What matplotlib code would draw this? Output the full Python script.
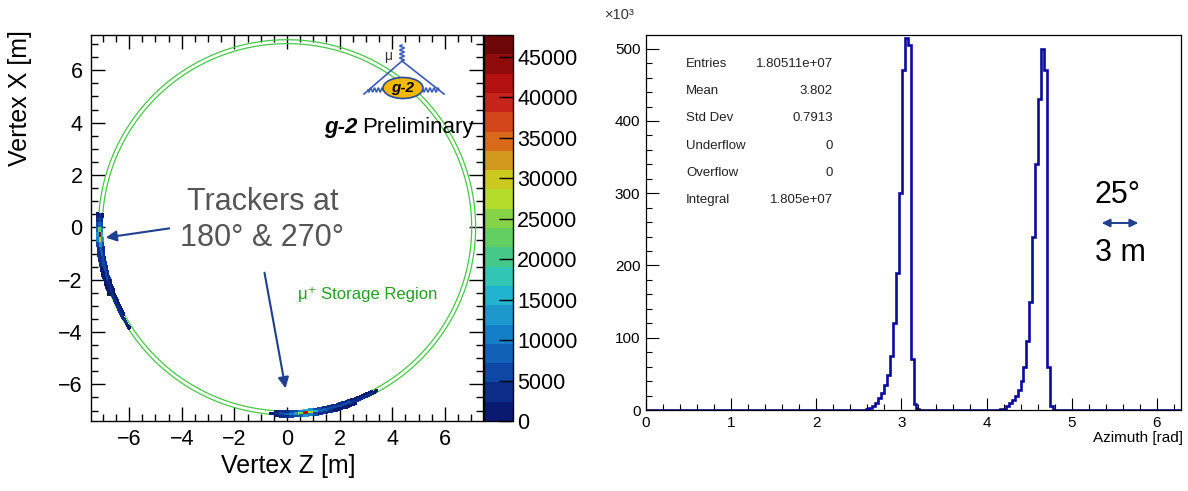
import numpy as np
import matplotlib
matplotlib.use('Agg')
import matplotlib.pyplot as plt
from matplotlib.colors import ListedColormap, Normalize
from matplotlib.patches import Ellipse
from matplotlib.ticker import MultipleLocator

plt.rcParams['font.family'] = ['Liberation Sans', 'DejaVu Sans']

# ---------------- data ----------------
# palette bands (0 -> top)
palette_colors = ['#0a1a70', '#0c2c8a', '#0e47a5', '#1161b8', '#137fc9', '#1c98cc',
                  '#22b3cf', '#30c5b5', '#45c98a', '#63cf62', '#86d348', '#b4dc2a',
                  '#cbc81e', '#d0981c', '#d86a1a', '#d3461c', '#c6231a', '#b31111',
                  '#8f0a0a', '#6e0707']
color_max = 47700
colorbar_ticks = [0, 5000, 10000, 15000, 20000, 25000, 30000, 35000, 40000, 45000]

ring_radii = [7.02, 7.17]                     # storage region boundaries [m]
hit_r_edges = [6.99, 7.08, 7.17, 7.27]       # radial bins of the vertex map [m]

# tracker at 180 deg: azimuthal bins (deg) and counts (inner, mid, outer rows)
trk180_theta_edges = np.arange(174.0, 213.1, 1.5)
trk180_inner = [0, 1500, 3000, 5000, 10000, 16000, 12000, 6000, 4500, 4000, 3500, 3000, 3000,
                2500, 2500, 2000, 2000, 2000, 1500, 1500, 1500, 1000, 1000, 0, 0, 0]
trk180_mid = [0, 3000, 6000, 9000, 22000, 43000, 30000, 12000, 9000, 8000, 7000, 6000, 6000,
              5000, 5000, 4500, 4500, 4000, 4000, 3500, 3500, 3000, 3000, 2500, 2500, 2000]
trk180_outer = [0, 1500, 3000, 5000, 9000, 14000, 10000, 5000, 4000, 3500, 3000, 2500, 2000,
                2000, 1500, 1500, 1000, 1000, 0, 0, 0, 0, 0, 0, 0, 0]

# tracker at 270 deg
trk270_theta_edges = np.arange(264.5, 299.1, 1.5)
trk270_inner = [0, 2000, 3000, 4000, 5000, 7000, 11000, 16000, 12000, 7000, 5000, 4000, 3500,
                3000, 3000, 2500, 2500, 2000, 2000, 1500, 1500, 1000, 0]
trk270_mid = [1500, 4000, 6000, 8000, 10000, 14000, 25000, 42000, 30000, 15000, 9000, 8000, 7000,
              6000, 6000, 5000, 5000, 4500, 4000, 4000, 3500, 3000, 2000]
trk270_outer = [0, 1500, 2500, 3500, 5000, 6000, 9000, 13000, 10000, 6000, 4000, 3000, 2500,
                2000, 1500, 1500, 1000, 1000, 0, 0, 0, 0, 0]

# azimuth histogram: 180 bins over [0, 2pi], counts in units of 10^3
az_nbins = 180
peak1_first_bin = 74
peak1_counts = [1, 3, 6, 10, 16, 24, 34, 48, 75, 120, 190, 300, 470, 515, 505, 70, 8, 1]
peak2_first_bin = 119
peak2_counts = [1, 2, 5, 9, 14, 20, 28, 40, 60, 95, 150, 240, 340, 430, 500, 470, 60, 5]

stats_names = ['Entries', 'Mean', 'Std Dev', 'Underflow', 'Overflow', 'Integral']
stats_values = ['1.80511e+07', '3.802', '0.7913', '0', '0', '1.805e+07']

# ---------------- figure ----------------
W, H = 1188, 491
fig = plt.figure(figsize=(W / 100, H / 100), dpi=100)


def fx(px):
    return px / W


def fy(py):
    return 1 - py / H


# ---------- left: vertex map ----------
ax = fig.add_axes([fx(91), fy(421), fx(483) - fx(91), fy(35) - fy(421)])
cmap = ListedColormap(palette_colors)
norm = Normalize(0, color_max)

th = np.linspace(0, 2 * np.pi, 721)
for r in ring_radii:
    ax.plot(r * np.cos(th), r * np.sin(th), color='#45c845', lw=0.9, zorder=2)

mesh = None
for edges, rows in [(trk180_theta_edges, [trk180_inner, trk180_mid, trk180_outer]),
                    (trk270_theta_edges, [trk270_inner, trk270_mid, trk270_outer])]:
    T, R = np.meshgrid(np.radians(edges), hit_r_edges)
    Zc = R * np.cos(T)
    Xc = R * np.sin(T)
    C = np.ma.masked_equal(np.array(rows, dtype=float), 0)
    mesh = ax.pcolormesh(Zc, Xc, C, cmap=cmap, norm=norm, shading='flat', zorder=3)

ax.set_xlim(-7.45, 7.45)
ax.set_ylim(-7.4, 7.35)
ax.xaxis.set_major_locator(MultipleLocator(2))
ax.yaxis.set_major_locator(MultipleLocator(2))
ax.xaxis.set_minor_locator(MultipleLocator(0.5))
ax.yaxis.set_minor_locator(MultipleLocator(0.5))
ax.tick_params(which='both', direction='in', top=True, right=True, width=1, colors='black')
ax.tick_params(which='major', length=10, labelsize=15.5, pad=6)
ax.tick_params(which='minor', length=5)
for s in ax.spines.values():
    s.set_linewidth(1)

# colorbar
cax = fig.add_axes([fx(484), fy(421), fx(513) - fx(484), fy(35) - fy(421)])
cb = fig.colorbar(mesh, cax=cax)
cb.set_ticks(colorbar_ticks)
cb.set_ticklabels([str(t) for t in colorbar_ticks])
cax.tick_params(direction='in', length=10, width=1, labelsize=15.5, pad=3, right=True)
cax.minorticks_off()
cb.outline.set_linewidth(1)

# ---------- right: azimuth histogram ----------
axr = fig.add_axes([fx(646), fy(410), fx(1181) - fx(646), fy(35) - fy(410)])
az_edges = np.linspace(0, 2 * np.pi, az_nbins + 1)
az_counts = np.zeros(az_nbins)
az_counts[peak1_first_bin:peak1_first_bin + len(peak1_counts)] = peak1_counts
az_counts[peak2_first_bin:peak2_first_bin + len(peak2_counts)] = peak2_counts
axr.stairs(az_counts, az_edges, color='#0b0b9c', lw=1.9, baseline=0)
axr.set_xlim(0, 2 * np.pi)
axr.set_ylim(0, 519)
axr.xaxis.set_major_locator(MultipleLocator(1))
axr.xaxis.set_minor_locator(MultipleLocator(0.2))
axr.yaxis.set_major_locator(MultipleLocator(100))
axr.yaxis.set_minor_locator(MultipleLocator(20))
axr.tick_params(which='both', direction='in', width=0.8, colors='black')
axr.tick_params(which='major', length=9, labelsize=11, pad=4)
axr.tick_params(which='minor', length=4.5)
for s in axr.spines.values():
    s.set_linewidth(0.9)

# ---------- overlay in pixel coords ----------
ov = fig.add_axes([0, 0, 1, 1], zorder=10)
ov.set_xlim(0, W)
ov.set_ylim(H, 0)
ov.axis('off')
ov.patch.set_visible(False)

# axis titles
ov.text(288, 466, 'Vertex Z [m]', ha='center', va='center', fontsize=18)
ov.text(20, 98, 'Vertex X [m]', ha='center', va='center', fontsize=18, rotation=90)
ov.text(1183, 438, 'Azimuth [rad]', ha='right', va='center', fontsize=11)
ov.text(605, 15, '\u00d710\u00b3', ha='left', va='center', fontsize=10.5, color='#333333')

# annotations
gray = '#555555'
ov.text(263, 202, 'Trackers at', ha='center', va='center', fontsize=22, color=gray)
ov.text(262, 238, '180\u00b0 & 270\u00b0', ha='center', va='center', fontsize=22, color=gray)
arrow_col = '#1f3f8f'
ov.annotate('', xy=(103, 238), xytext=(172, 228),
            arrowprops=dict(arrowstyle='-|>', color=arrow_col, lw=1.5, mutation_scale=16))
ov.annotate('', xy=(286, 391), xytext=(264, 270),
            arrowprops=dict(arrowstyle='-|>', color=arrow_col, lw=1.5, mutation_scale=16))
ov.text(368, 295, '\u03bc\u207a Storage Region', ha='center', va='center', fontsize=12,
        color='#22a022')

# g-2 Preliminary
ov.text(357, 127, 'g-2', ha='right', va='center', fontsize=16, fontweight='bold',
        fontstyle='italic')
ov.text(362, 127, 'Preliminary', ha='left', va='center', fontsize=16)

# logo
lc = '#3a5ab8'
vx, vy = 402, 61
ov.plot([vx, 364], [vy, 94], color=lc, lw=1.2)
ov.plot([vx, 444], [vy, 94], color=lc, lw=1.2)
t = np.linspace(0, 1, 80)
ov.plot(vx + 2.2 * np.sin(t * 2 * np.pi * 4), vy - 16 * t, color=lc, lw=1.1)
ov.plot(368 + 15 * t, 90 + 2 * np.sin(t * 2 * np.pi * 4), color=lc, lw=1.1)
ov.plot(423 + 16 * t, 90 + 2 * np.sin(t * 2 * np.pi * 4), color=lc, lw=1.1)
ov.add_patch(Ellipse((403, 88), 40, 21, facecolor='#f5b800', edgecolor='#2a4aa0', lw=1.2,
                     zorder=5))
ov.text(403, 88, 'g-2', ha='center', va='center', fontsize=11, fontweight='bold',
        fontstyle='italic', zorder=6)
ov.text(388, 56, '\u03bc', ha='center', va='center', fontsize=10, color='#333333')

# stats box text
for i, (n, v) in enumerate(zip(stats_names, stats_values)):
    y = 64 + 27.2 * i
    ov.text(686, y, n, ha='left', va='center', fontsize=9.5, color='#222222')
    ov.text(833, y, v, ha='right', va='center', fontsize=9.5, color='#222222')

# scale note
ov.text(1118, 195, '25\u00b0', ha='center', va='center', fontsize=22)
ov.annotate('', xy=(1141, 223), xytext=(1099, 223),
            arrowprops=dict(arrowstyle='<|-|>', color=arrow_col, lw=1.4, mutation_scale=12))
ov.text(1120, 253, '3 m', ha='center', va='center', fontsize=22)

fig.savefig('out.png', dpi=100)
